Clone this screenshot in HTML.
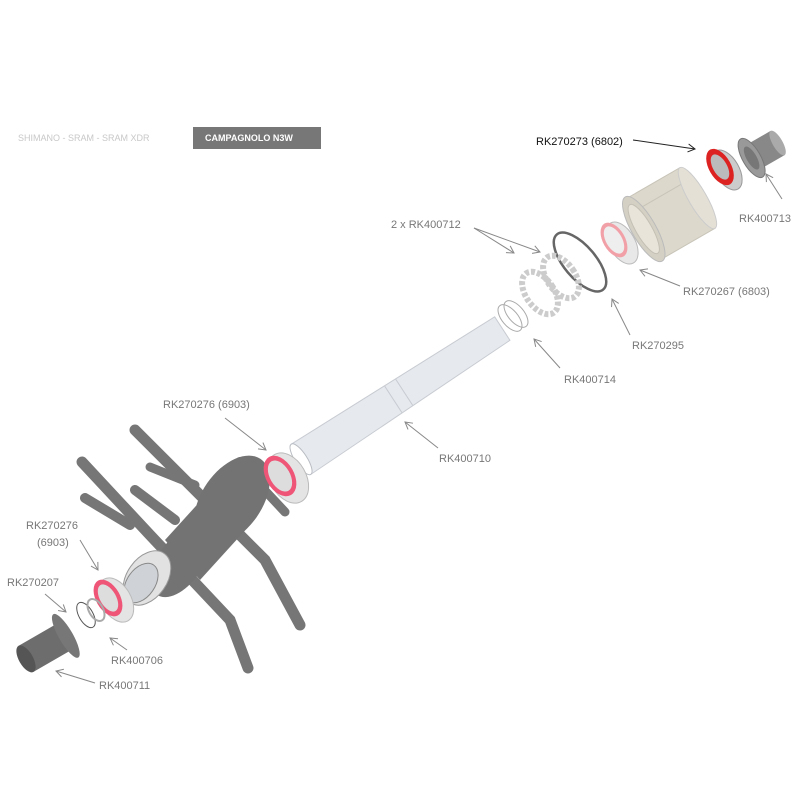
<!DOCTYPE html>
<html><head><style>
body{margin:0;background:#fff;}
svg{display:block;font-family:"Liberation Sans",sans-serif;}
</style></head><body>
<svg width="800" height="800" viewBox="0 0 800 800">
<defs>
<marker id="ar" markerWidth="10" markerHeight="10" refX="8" refY="5" orient="auto" markerUnits="userSpaceOnUse"><path d="M1,1 L8,5 L1,9" fill="none" stroke="#888" stroke-width="1"/></marker>
<marker id="arb" markerWidth="10" markerHeight="10" refX="8" refY="5" orient="auto" markerUnits="userSpaceOnUse"><path d="M1,1 L8,5 L1,9" fill="none" stroke="#222" stroke-width="1"/></marker>
</defs>
<text x="18" y="141" font-size="9" fill="#c8c8c8">SHIMANO  -  SRAM  -  SRAM XDR</text>
<rect x="193" y="127" width="128" height="22" fill="#777"/>
<text x="205" y="141" font-size="9" font-weight="bold" fill="#fff">CAMPAGNOLO N3W</text>

<g stroke="#767676" stroke-linecap="round" fill="none">
<path d="M135,430 L200,495 L265,560 L300,625" stroke-width="11"/>
<path d="M82,462 L150,535 L230,620 L248,668" stroke-width="11"/>
<path d="M135,490 L175,520" stroke-width="10"/>
<path d="M85,498 L130,525" stroke-width="10"/>
<path d="M240,462 L245,510" stroke-width="10"/>
<path d="M255,480 L285,512" stroke-width="9"/>
<path d="M150,467 L195,485" stroke-width="9"/>
</g>
<g fill="#737373">
<ellipse cx="232" cy="500" rx="30" ry="50" transform="rotate(35 232 500)"/>
<polygon points="165,540 215,485 250,525 200,580"/>
<ellipse cx="180" cy="562" rx="22" ry="40" transform="rotate(35 180 562)"/>
</g>
<ellipse cx="147" cy="578" rx="20" ry="30" transform="rotate(35 147 578)" fill="#e2e2e2" stroke="#999"/>
<ellipse cx="141" cy="583" rx="14" ry="22" transform="rotate(35 141 583)" fill="#cfd3d8" stroke="#888"/>

<g transform="rotate(-33 400 395)">
<polygon points="282,377 400,379 522,381 522,409 400,411 282,413" fill="#e6eaef" stroke="#c8ccd2"/>
<line x1="392" y1="379" x2="392" y2="411" stroke="#c8ccd2"/>
<line x1="405" y1="379" x2="405" y2="411" stroke="#c8ccd2"/>
<ellipse cx="282" cy="395" rx="6" ry="18" fill="#fff" stroke="#b8bcc2"/>
</g>

<ellipse cx="288" cy="478" rx="18" ry="27" transform="rotate(-30 288 478)" fill="#e4e4e4" stroke="#bbb"/>
<ellipse cx="280" cy="476" rx="14" ry="22" transform="rotate(-30 280 476)" fill="#e57"/>
<ellipse cx="280" cy="476" rx="10" ry="17" transform="rotate(-30 280 476)" fill="#ddd"/>
<ellipse cx="116" cy="600" rx="15" ry="24" transform="rotate(-30 116 600)" fill="#e4e4e4" stroke="#bbb"/>
<ellipse cx="108" cy="598" rx="12" ry="20" transform="rotate(-30 108 598)" fill="#e57"/>
<ellipse cx="108" cy="598" rx="8" ry="15" transform="rotate(-30 108 598)" fill="#ddd"/>
<ellipse cx="622" cy="243" rx="13" ry="23" transform="rotate(-30 622 243)" fill="#e8e8e8" stroke="#bbb"/>
<ellipse cx="614" cy="240" rx="11" ry="19" transform="rotate(-30 614 240)" fill="#f2a0a8"/>
<ellipse cx="614" cy="240" rx="8" ry="15" transform="rotate(-30 614 240)" fill="#eee"/>
<ellipse cx="727" cy="170" rx="12" ry="22" transform="rotate(-30 727 170)" fill="#ccc" stroke="#999"/>
<ellipse cx="720" cy="167" rx="11" ry="20" transform="rotate(-30 720 167)" fill="#d22"/>
<ellipse cx="720" cy="167" rx="7" ry="14" transform="rotate(-30 720 167)" fill="#bbb"/>

<ellipse cx="86" cy="615" rx="7" ry="14" transform="rotate(-30 86 615)" fill="none" stroke="#555"/>
<ellipse cx="96" cy="610" rx="7" ry="12" transform="rotate(-30 96 610)" fill="none" stroke="#aaa" stroke-width="2"/>
<ellipse cx="580" cy="262" rx="16" ry="36" transform="rotate(-40 580 262)" fill="none" stroke="#666" stroke-width="2.5"/>
<ellipse cx="510" cy="318" rx="8" ry="16" transform="rotate(-40 510 318)" fill="none" stroke="#aaa"/>
<ellipse cx="516" cy="314" rx="8" ry="16" transform="rotate(-40 516 314)" fill="none" stroke="#aaa"/>
<ellipse cx="540" cy="293" rx="14" ry="24" transform="rotate(-35 540 293)" fill="none" stroke="#ccc" stroke-width="6" stroke-dasharray="4 2"/>
<ellipse cx="561" cy="277" rx="14" ry="24" transform="rotate(-35 561 277)" fill="none" stroke="#ccc" stroke-width="6" stroke-dasharray="4 2"/>

<g transform="rotate(-30 668 215)">
<rect x="640" y="180" width="62" height="70" fill="#dcd8cc" stroke="#c8c4b8"/>
<line x1="650" y1="195" x2="700" y2="195" stroke="#c8c4b8"/>
<ellipse cx="702" cy="215" rx="9" ry="35" fill="#e4e0d6" stroke="#ccc"/>
<ellipse cx="640" cy="215" rx="12" ry="37" fill="#d4d0c4" stroke="#bbb"/>
<ellipse cx="640" cy="215" rx="8" ry="28" fill="#e8e4da" stroke="#c4c0b4"/>
</g>
<g transform="rotate(-30 762 152)">
<rect x="750" y="138" width="30" height="28" fill="#888"/>
<ellipse cx="780" cy="152" rx="5" ry="14" fill="#aaa"/>
<ellipse cx="750" cy="152" rx="9" ry="22" fill="#999" stroke="#777"/>
<ellipse cx="750" cy="152" rx="5" ry="13" fill="#777"/>
</g>
<g transform="rotate(-30 48 645)">
<rect x="22" y="631" width="46" height="30" fill="#6d6d6d"/>
<ellipse cx="68" cy="646" rx="7" ry="25" fill="#777"/>
<ellipse cx="22" cy="646" rx="7" ry="15" fill="#555"/>
</g>

<g font-size="11" fill="#777">
<text x="536" y="145" fill="#111">RK270273 (6802)</text>
<text x="739" y="222">RK400713</text>
<text x="391" y="228">2 x RK400712</text>
<text x="683" y="295">RK270267 (6803)</text>
<text x="632" y="349">RK270295</text>
<text x="564" y="383">RK400714</text>
<text x="439" y="462">RK400710</text>
<text x="163" y="408">RK270276 (6903)</text>
<text x="26" y="529">RK270276</text>
<text x="37" y="546">(6903)</text>
<text x="7" y="586">RK270207</text>
<text x="111" y="664">RK400706</text>
<text x="99" y="689">RK400711</text>
</g>
<g stroke="#888" fill="none" stroke-width="1">
<line x1="633" y1="140" x2="695" y2="149" stroke="#222" marker-end="url(#arb)"/>
<line x1="782" y1="199" x2="766" y2="174" marker-end="url(#ar)"/>
<line x1="474" y1="228" x2="514" y2="253" marker-end="url(#ar)"/>
<line x1="474" y1="228" x2="540" y2="252" marker-end="url(#ar)"/>
<line x1="680" y1="286" x2="640" y2="270" marker-end="url(#ar)"/>
<line x1="630" y1="335" x2="612" y2="299" marker-end="url(#ar)"/>
<line x1="560" y1="368" x2="534" y2="339" marker-end="url(#ar)"/>
<line x1="438" y1="448" x2="405" y2="422" marker-end="url(#ar)"/>
<line x1="225" y1="418" x2="266" y2="450" marker-end="url(#ar)"/>
<line x1="80" y1="540" x2="98" y2="570" marker-end="url(#ar)"/>
<line x1="45" y1="594" x2="66" y2="612" marker-end="url(#ar)"/>
<line x1="127" y1="650" x2="110" y2="638" marker-end="url(#ar)"/>
<line x1="95" y1="683" x2="56" y2="671" marker-end="url(#ar)"/>
</g>
</svg>
</body></html>
